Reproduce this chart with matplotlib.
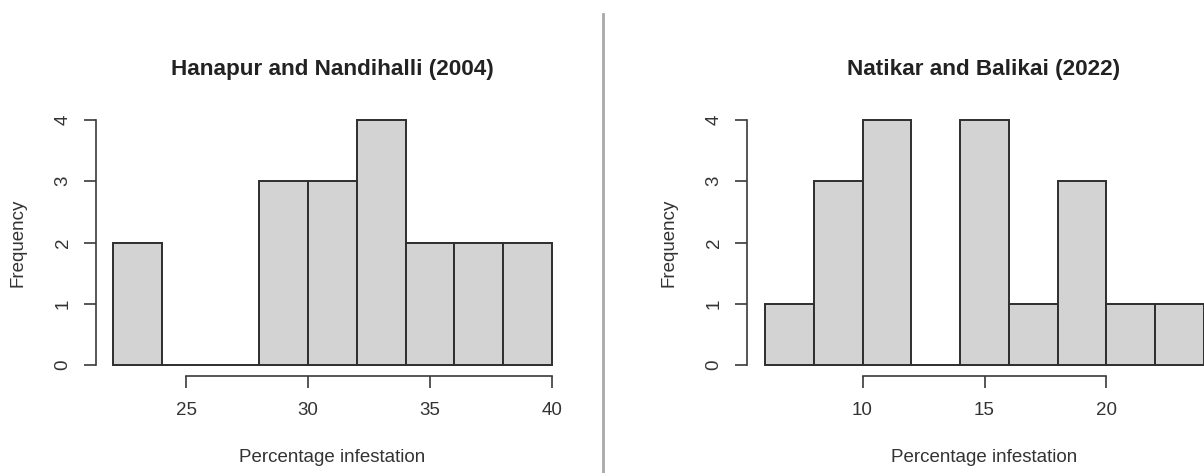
import matplotlib
matplotlib.use("Agg")
import matplotlib.pyplot as plt
from matplotlib.lines import Line2D

plt.rcParams['font.family'] = ['Liberation Sans', 'DejaVu Sans']

# Data
left_title = "Hanapur and Nandihalli (2004)"
left_breaks = [22, 24, 26, 28, 30, 32, 34, 36, 38, 40]
left_counts = [2, 0, 0, 3, 3, 4, 2, 2, 2]
left_xticks = [25, 30, 35, 40]

right_title = "Natikar and Balikai (2022)"
right_breaks = [6, 8, 10, 12, 14, 16, 18, 20, 22, 24]
right_counts = [1, 3, 4, 0, 4, 1, 3, 1, 1]
right_xticks = [10, 15, 20]

yticks = [0, 1, 2, 3, 4]
xlabel = "Percentage infestation"
ylabel = "Frequency"

W, H = 1204, 473
fig = plt.figure(figsize=(W / 100, H / 100), dpi=100)

AX_COL = '#3a3a3a'
FS = 13.5


def px_axes(x0, x1, ytop, ybot):
    return [x0 / W, 1 - ybot / H, (x1 - x0) / W, (ybot - ytop) / H]


def draw_hist(rect, breaks, counts, xt, title, yspine_out, title_x):
    ax = fig.add_axes(rect)
    lefts = breaks[:-1]
    widths = [b - a for a, b in zip(breaks[:-1], breaks[1:])]
    ax.bar(lefts, counts, width=widths, align='edge', color='#d3d3d3',
           edgecolor='#2e2e2e', linewidth=1.4, clip_on=False)
    ax.set_xlim(breaks[0], breaks[-1])
    ax.set_ylim(0, 4)
    for s in ['top', 'right']:
        ax.spines[s].set_visible(False)
    ax.spines['left'].set_position(('outward', yspine_out * 0.72))
    ax.spines['bottom'].set_position(('outward', 11 * 0.72))
    ax.spines['left'].set_bounds(0, 4)
    ax.spines['bottom'].set_bounds(xt[0], xt[-1])
    for s in ['left', 'bottom']:
        ax.spines[s].set_color(AX_COL)
        ax.spines[s].set_linewidth(1.2)
    ax.set_xticks(xt)
    ax.set_xticklabels([str(v) for v in xt])
    ax.set_yticks(yticks)
    ax.set_yticklabels([str(v) for v in yticks], rotation=90, va='center')
    ax.tick_params(axis='both', length=8.5, width=1.2, color=AX_COL,
                   labelsize=FS, labelcolor='#333333', direction='out')
    ax.tick_params(axis='x', pad=10)
    ax.tick_params(axis='y', pad=9)
    ax.set_xlabel(xlabel, fontsize=FS, color='#333333', labelpad=22)
    ax.set_ylabel(ylabel, fontsize=FS, color='#333333', labelpad=20)
    ax.patch.set_alpha(0)
    fig.text(title_x / W, 1 - 75 / H, title, fontsize=16.2, fontweight='bold',
             ha='center', va='baseline', color='#222222')
    return ax


draw_hist(px_axes(113, 552, 120, 365), left_breaks, left_counts, left_xticks,
          left_title, 17, 332)
draw_hist(px_axes(765, 1204, 120, 365), right_breaks, right_counts, right_xticks,
          right_title, 18, 984)

fig.add_artist(Line2D([603 / W, 603 / W], [0, 1 - 14 / H], color='#a8a8a8',
                      linewidth=2, transform=fig.transFigure))

fig.savefig("out.png", dpi=100)
